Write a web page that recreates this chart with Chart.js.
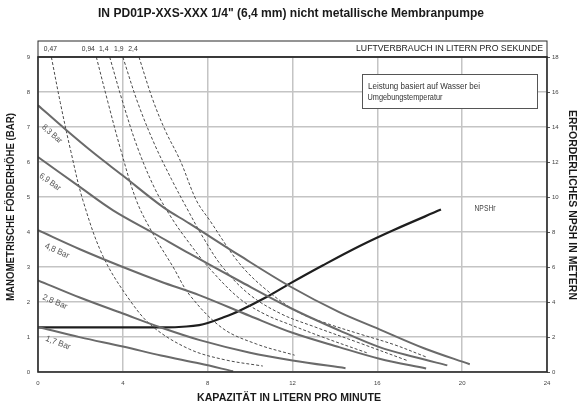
<!DOCTYPE html>
<html>
<head>
<meta charset="utf-8">
<script src="https://cdn.jsdelivr.net/npm/chart.js@4"></script>
<style>
  html, body { margin: 0; padding: 0; background: #fff; }
  canvas { display: block; }
</style>
</head>
<body>
<canvas id="chart" width="580" height="407"></canvas>
<script>
// capacity (l/min) against head (bar)
const xTicks = [0, 4, 8, 12, 16, 20, 24];
const pressureNames = ["8,3 Bar", "6,9 Bar", "4,8 Bar", "2,8 Bar", "1,7 Bar"];
const bar83 = [[0, 7.62], [1.26, 6.95], [2.6, 6.27], [3.98, 5.62], [5.9, 4.71], [7.15, 4.24], [9.5, 3.33], [11.87, 2.45], [14.2, 1.71], [16.1, 1.22], [18.2, 0.68], [20.36, 0.22]];
const bar69 = [[0, 6.14], [1.97, 5.29], [3.54, 4.62], [5.5, 3.95], [7.15, 3.38], [9.5, 2.6], [12, 1.8], [14.2, 1.19], [16.1, 0.71], [17.8, 0.42], [19.3, 0.19]];
const bar48 = [[0, 4.05], [2, 3.5], [4, 3.0], [5.8, 2.58], [7.63, 2.19], [10, 1.6], [12, 1.12], [14.2, 0.71], [16.1, 0.38], [18.3, 0.1]];
const bar28 = [[0, 2.62], [2, 2.12], [4, 1.67], [5.8, 1.27], [7.63, 0.91], [10, 0.55], [12, 0.33], [14.5, 0.11]];
const bar17 = [[0, 1.29], [2, 0.99], [4, 0.73], [5.8, 0.47], [7.63, 0.24], [9.2, 0.02]];

// air consumption (l/s), dashed
const airNames = ["0,47", "0,94", "1,4", "1,9", "2,4"];
const air047 = [[0.63, 9], [1.05, 7.7], [1.55, 6.3], [2.12, 4.9], [3.07, 3.3], [4.33, 2.05], [5.42, 1.29], [7.15, 0.65], [8.8, 0.35], [10.6, 0.17]];
const air094 = [[2.75, 9], [3.3, 7.7], [3.9, 6.35], [4.64, 4.9], [5.42, 3.95], [6.37, 3.0], [7.15, 2.2], [8.7, 1.25], [10.3, 0.8], [12.1, 0.48]];
const air14 = [[3.38, 9], [4.0, 7.7], [4.7, 6.4], [5.5, 5.25], [6.3, 4.4], [7.15, 3.67], [8.1, 2.95], [9.5, 2.1], [10.7, 1.65], [11.9, 1.35], [13.5, 0.98], [15.5, 0.55]];
const air19 = [[4.0, 9], [4.7, 7.7], [5.5, 6.5], [6.3, 5.5], [7.0, 4.7], [7.78, 3.85], [8.7, 3.0], [10.0, 2.2], [11.5, 1.65], [13.0, 1.3], [15.2, 0.82], [17.4, 0.33]];
const air24 = [[4.76, 9], [5.4, 7.8], [6.0, 6.9], [6.7, 6.05], [7.47, 4.9], [8.1, 4.33], [9.5, 3.1], [10.8, 2.33], [12.3, 1.7], [13.8, 1.35], [15.2, 1.08], [16.8, 0.78], [18.3, 0.43]];

// NPSHr in metres (right axis)
const npshr = [[0, 2.55], [6.0, 2.55], [7.0, 2.6], [7.6, 2.68], [8.0, 2.8], [8.7, 3.1], [9.5, 3.5], [10.8, 4.3], [11.87, 5.05], [13.44, 6.1], [15.17, 7.2], [16.75, 8.1], [19.0, 9.28]];

const FONT = '"Liberation Sans", Arial, sans-serif';

function pts(arr) {
  return arr.map(p => ({ x: p[0], y: p[1] }));
}

function solid(name, arr) {
  return { label: name, data: pts(arr), borderColor: "#6a6a6a", borderWidth: 2, yAxisID: "y" };
}
function dashed(name, arr) {
  return { label: name, data: pts(arr), borderColor: "#4a4a4a", borderWidth: 1, borderDash: [3, 2], yAxisID: "y" };
}

// the sheet uses a condensed face, so squeeze the text sideways to its printed width
function fitText(ctx, text, cx, cy, width, size, weight, rot, color) {
  ctx.save();
  ctx.font = weight + " " + size + "px " + FONT;
  const w = ctx.measureText(text).width;
  ctx.fillStyle = color || "#222";
  ctx.translate(cx, cy);
  ctx.rotate(rot || 0);
  ctx.scale(width / w, 1);
  ctx.textAlign = "center";
  ctx.textBaseline = "middle";
  ctx.fillText(text, 0, 0);
  ctx.restore();
}

const decor = {
  id: "decor",
  afterDraw(chart) {
    const ctx = chart.ctx;
    const a = chart.chartArea;
    const sx = chart.scales.x;

    // frame + header strip
    ctx.save();
    ctx.strokeStyle = "#2a2a2a";
    ctx.lineWidth = 1;
    ctx.strokeRect(a.left, 41, a.right - a.left, a.top - 41);
    ctx.lineWidth = 1.6;
    ctx.strokeRect(a.left, a.top, a.right - a.left, a.bottom - a.top);
    ctx.restore();

    // titles
    fitText(ctx, "IN PD01P-XXS-XXX 1/4\" (6,4 mm) nicht metallische Membranpumpe", 291, 14, 386, 12, "bold", 0, "#1a1a1a");
    fitText(ctx, "KAPAZITÄT IN LITERN PRO MINUTE", 289, 398, 184, 11.5, "bold", 0, "#1a1a1a");
    fitText(ctx, "MANOMETRISCHE FÖRDERHÖHE (BAR)", 11, 207, 188, 11, "bold", -Math.PI / 2, "#1a1a1a");
    fitText(ctx, "ERFORDERLICHES NPSH IN METERN", 572, 205, 190, 11, "bold", Math.PI / 2, "#1a1a1a");
    fitText(ctx, "LUFTVERBRAUCH IN LITERN PRO SEKUNDE", 449.5, 48.5, 187, 9.5, "normal", 0, "#1a1a1a");

    // air labels sit next to the top of each dashed line
    const airData = [air047, air094, air14, air19, air24];
    const shift = [-1, -8, -6, -4, -6];
    const widths = [13, 13, 9.5, 9.5, 9.5];
    airData.forEach((arr, i) => {
      const px = sx.getPixelForValue(arr[0][0]);
      fitText(ctx, airNames[i], px + shift[i], 49, widths[i], 7.5, "normal", 0, "#333");
    });

    // note box
    ctx.save();
    ctx.fillStyle = "#fff";
    ctx.fillRect(362, 74, 175, 34);
    ctx.strokeStyle = "#555";
    ctx.lineWidth = 1;
    ctx.strokeRect(362.5, 74.5, 175, 34);
    ctx.restore();
    fitText(ctx, "Leistung basiert auf Wasser bei", 424, 86, 112, 9.5, "normal", 0, "#333");
    fitText(ctx, "Umgebungstemperatur", 405, 97.5, 75, 9.5, "normal", 0, "#333");

    // pressure labels along the curves
    const lab = [[52, 134, 0.72, 24], [50, 182, 0.62, 24], [57, 251, 0.42, 26], [55, 302, 0.4, 26], [58, 343, 0.36, 26]];
    lab.forEach((l, i) => {
      fitText(ctx, pressureNames[i], l[0], l[1], l[3], 8.5, "normal", l[2], "#555");
    });

    fitText(ctx, "NPSHr", 485, 208, 21, 9.5, "normal", 0, "#444");
  }
};

const datasets = [
  solid(pressureNames[0], bar83),
  solid(pressureNames[1], bar69),
  solid(pressureNames[2], bar48),
  solid(pressureNames[3], bar28),
  solid(pressureNames[4], bar17),
  dashed(airNames[0], air047),
  dashed(airNames[1], air094),
  dashed(airNames[2], air14),
  dashed(airNames[3], air19),
  dashed(airNames[4], air24),
  { label: "NPSHr", data: pts(npshr), borderColor: "#1e1e1e", borderWidth: 2.2, yAxisID: "y2" }
];

const tickFont = { size: 6, family: FONT };

new Chart(document.getElementById("chart"), {
  type: "line",
  data: { datasets: datasets },
  options: {
    responsive: false,
    animation: false,
    devicePixelRatio: 1,
    layout: { padding: { top: 57, left: 0, right: 0, bottom: 0 } },
    elements: {
      point: { radius: 0 },
      line: { tension: 0.35, fill: false }
    },
    plugins: {
      legend: { display: false },
      tooltip: { enabled: false },
      title: { display: false }
    },
    scales: {
      x: {
        type: "linear",
        min: 0,
        max: 24,
        afterBuildTicks: s => { s.ticks = xTicks.map(v => ({ value: v })); },
        ticks: { font: tickFont, color: "#444", padding: 8 },
        grid: { color: "#c4c4c4", lineWidth: 1.5, drawTicks: false },
        border: { display: false },
        afterFit: s => { s.height = 35; }
      },
      y: {
        position: "left",
        min: 0,
        max: 9,
        ticks: { stepSize: 1, font: tickFont, color: "#444", padding: 8 },
        grid: { color: "#c4c4c4", lineWidth: 1.5, drawTicks: false },
        border: { display: false },
        afterFit: s => { s.width = 38; }
      },
      y2: {
        position: "right",
        min: 0,
        max: 18,
        ticks: { stepSize: 2, font: tickFont, color: "#444", padding: 2 },
        grid: { drawOnChartArea: false, color: "#555", tickLength: 3 },
        border: { display: false },
        afterFit: s => { s.width = 33; }
      }
    }
  },
  plugins: [decor]
});
</script>
</body>
</html>
